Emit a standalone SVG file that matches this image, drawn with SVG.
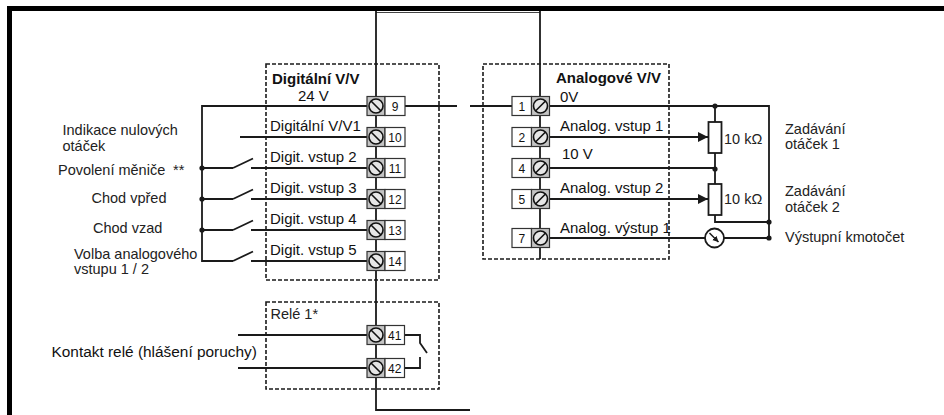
<svg xmlns="http://www.w3.org/2000/svg" xmlns:xlink="http://www.w3.org/1999/xlink" width="944" height="415" viewBox="0 0 944 415">
<style>
.w{fill:none;stroke:#1a1a1a;stroke-width:1.8}
.box{fill:none;stroke:#1a1a1a;stroke-width:1.6;stroke-dasharray:4 2}
.sb{fill:#c4c4c4;stroke:#333;stroke-width:1.2}
.nb{fill:#fff;stroke:#333;stroke-width:1.2}
.a{font-family:"Liberation Sans",Arial,sans-serif;font-size:15px;fill:#111}
.b{font-family:"Liberation Sans",Arial,sans-serif;font-size:15px;font-weight:bold;fill:#111}
.m{font-family:"Liberation Sans",Arial,sans-serif;font-size:14.5px;fill:#222}
.n{font-family:"Liberation Sans",Arial,sans-serif;font-size:12px;fill:#111;text-anchor:middle}
.dot{fill:#1a1a1a}
</style>
<defs>
<g id="screwD"><rect class="sb" x="-9" y="-9.5" width="18" height="19"/><circle cx="0" cy="0" r="7" fill="#e6e6e6" stroke="#111" stroke-width="1.6"/><line x1="-5" y1="-5" x2="5" y2="5" stroke="#111" stroke-width="1.6"/></g>
<g id="screwA"><rect class="sb" x="-9" y="-9.5" width="18" height="19"/><circle cx="0" cy="0" r="7" fill="#e6e6e6" stroke="#111" stroke-width="1.6"/><line x1="-5" y1="5" x2="5" y2="-5" stroke="#111" stroke-width="1.6"/></g>
<marker id="ah" markerUnits="userSpaceOnUse" markerWidth="12" markerHeight="12" refX="10" refY="5" orient="auto"><path d="M0,0 L10,5 L0,10 Z" fill="#1a1a1a"/></marker>
<marker id="ahs" markerUnits="userSpaceOnUse" markerWidth="8" markerHeight="8" refX="6" refY="3" orient="auto"><path d="M0,0 L6,3 L0,6 Z" fill="#1a1a1a"/></marker>
</defs>

<g id="frame">
<path d="M9.5,415 V8.5 H944" fill="none" stroke="#000" stroke-width="5"/>
<line x1="376" y1="12.5" x2="540" y2="12.5" stroke="#444" stroke-width="1"/>
</g>

<g id="connectors">
<path class="w" d="M376,11 V410 H470"/>
<path class="w" d="M540,11 V259"/>
<path class="w" d="M367,106 H202 V261 H233"/>
<path class="w" d="M240,137 H367"/>
<path class="w" d="M202,168 H233 M233,168 L253,158.5 M251,168 H367"/>
<path class="w" d="M202,199 H233 M233,199 L253,189.5 M251,199 H367"/>
<path class="w" d="M202,230 H233 M233,230 L253,220.5 M251,230 H367"/>
<path class="w" d="M233,261 L253,251.5 M251,261 H367"/>
<circle class="dot" cx="202" cy="168" r="2.6"/>
<circle class="dot" cx="202" cy="199" r="2.6"/>
<circle class="dot" cx="202" cy="230" r="2.6"/>
<path class="w" d="M405,106 H457 M470,106 H512"/>
<path class="w" d="M238,335 H367 M238,368 H367"/>
<path class="w" d="M404,335 H420 V343 L427,353 M404,368 H420 V357"/>
<path class="w" d="M549.5,106 H769 V238"/>
<path class="w" d="M549.5,137 H708" marker-end="url(#ah)"/>
<path class="w" d="M549.5,168 H715"/>
<path class="w" d="M549.5,199 H708" marker-end="url(#ah)"/>
<path class="w" d="M549.5,238 H705 M724,238 H769"/>
<path class="w" d="M715,106 V122 M715,153 V184 M715,215 V222 H769"/>
<circle class="dot" cx="715" cy="106" r="2.6"/>
<circle class="dot" cx="715" cy="169" r="2.6"/>
<circle class="dot" cx="769" cy="222" r="2.6"/>
<circle class="dot" cx="769" cy="238" r="2.6"/>
</g>

<g id="digital-io">
<rect class="box" x="266" y="64" width="173" height="216"/>
<text class="b" x="272" y="84">Digitální V/V</text>
<text class="a" x="298" y="101">24 V</text>
<text class="a" x="270" y="131">Digitální V/V1</text>
<text class="a" x="270" y="162">Digit. vstup 2</text>
<text class="a" x="270" y="193">Digit. vstup 3</text>
<text class="a" x="270" y="224">Digit. vstup 4</text>
<text class="a" x="270" y="255">Digit. vstup 5</text>
<g id="t9"><use xlink:href="#screwD" x="376" y="106"/><rect class="nb" x="385" y="96.5" width="20" height="19"/><text class="n" x="395" y="110.5">9</text></g>
<g id="t10"><use xlink:href="#screwD" x="376" y="137"/><rect class="nb" x="385" y="127.5" width="20" height="19"/><text class="n" x="395" y="141.5">10</text></g>
<g id="t11"><use xlink:href="#screwD" x="376" y="168"/><rect class="nb" x="385" y="158.5" width="20" height="19"/><text class="n" x="395" y="172.5">11</text></g>
<g id="t12"><use xlink:href="#screwD" x="376" y="199"/><rect class="nb" x="385" y="189.5" width="20" height="19"/><text class="n" x="395" y="203.5">12</text></g>
<g id="t13"><use xlink:href="#screwD" x="376" y="230"/><rect class="nb" x="385" y="220.5" width="20" height="19"/><text class="n" x="395" y="234.5">13</text></g>
<g id="t14"><use xlink:href="#screwD" x="376" y="261"/><rect class="nb" x="385" y="251.5" width="20" height="19"/><text class="n" x="395" y="265.5">14</text></g>
</g>

<g id="relay">
<rect class="box" x="266" y="302" width="173" height="87"/>
<text class="m" x="270.5" y="319">Relé  1*</text>
<g id="t41"><use xlink:href="#screwD" x="376" y="335"/><rect class="nb" x="385" y="325.5" width="19.5" height="19"/><text class="n" x="394.8" y="339.5">41</text></g>
<g id="t42"><use xlink:href="#screwD" x="376" y="368"/><rect class="nb" x="385" y="358.5" width="19.5" height="19"/><text class="n" x="394.8" y="372.5">42</text></g>
</g>

<g id="analog-io">
<rect class="box" x="483" y="64" width="186" height="195"/>
<text class="b" x="556" y="83">Analogové V/V</text>
<text class="a" x="560" y="101.5">0V</text>
<text class="a" x="560" y="131">Analog. vstup 1</text>
<text class="a" x="562" y="159">10 V</text>
<text class="a" x="560" y="193">Analog. vstup 2</text>
<text class="a" x="560" y="232.5">Analog. výstup 1</text>
<g id="t1"><rect class="nb" x="512" y="96.5" width="19.5" height="19"/><text class="n" x="521.8" y="110.5">1</text><use xlink:href="#screwA" x="540.5" y="106"/></g>
<g id="t2"><rect class="nb" x="512" y="127.5" width="19.5" height="19"/><text class="n" x="521.8" y="141.5">2</text><use xlink:href="#screwA" x="540.5" y="137"/></g>
<g id="t4"><rect class="nb" x="512" y="158.5" width="19.5" height="19"/><text class="n" x="521.8" y="172.5">4</text><use xlink:href="#screwA" x="540.5" y="168"/></g>
<g id="t5"><rect class="nb" x="512" y="189.5" width="19.5" height="19"/><text class="n" x="521.8" y="203.5">5</text><use xlink:href="#screwA" x="540.5" y="199"/></g>
<g id="t7"><rect class="nb" x="512" y="228.5" width="19.5" height="19"/><text class="n" x="521.8" y="242.5">7</text><use xlink:href="#screwA" x="540.5" y="238"/></g>
</g>

<g id="pot1">
<rect x="708.5" y="122" width="13" height="31" fill="#fff" stroke="#1a1a1a" stroke-width="1.8"/>
<text class="m" x="724" y="144">10 kΩ</text>
</g>
<g id="pot2">
<rect x="708.5" y="184" width="13" height="31" fill="#fff" stroke="#1a1a1a" stroke-width="1.8"/>
<text class="m" x="724" y="203.5">10 kΩ</text>
</g>
<g id="meter">
<circle cx="714.5" cy="238" r="9.5" fill="#fff" stroke="#1a1a1a" stroke-width="1.8"/>
<line x1="709.5" y1="233" x2="718.5" y2="242" stroke="#1a1a1a" stroke-width="1.5" marker-end="url(#ahs)"/>
</g>

<g id="labels">
<text class="m" x="62.5" y="135">Indikace nulových</text>
<text class="m" x="62.5" y="151">otáček</text>
<text class="m" x="58" y="175">Povolení měniče</text>
<text class="m" x="173" y="175" fill="#555">**</text>
<text class="m" x="91.5" y="203">Chod vpřed</text>
<text class="m" x="93" y="233">Chod vzad</text>
<text class="m" x="74" y="259">Volba analogového</text>
<text class="m" x="74" y="274">vstupu 1 / 2</text>
<text class="a" x="51.5" y="357" style="font-size:15.4px">Kontakt relé (hlášení poruchy)</text>
<text class="m" x="785" y="134">Zadávání</text>
<text class="m" x="785" y="149">otáček 1</text>
<text class="m" x="785" y="196">Zadávání</text>
<text class="m" x="785" y="211.5">otáček  2</text>
<text class="m" x="785" y="242">Výstupní kmotočet</text>
</g>
</svg>
